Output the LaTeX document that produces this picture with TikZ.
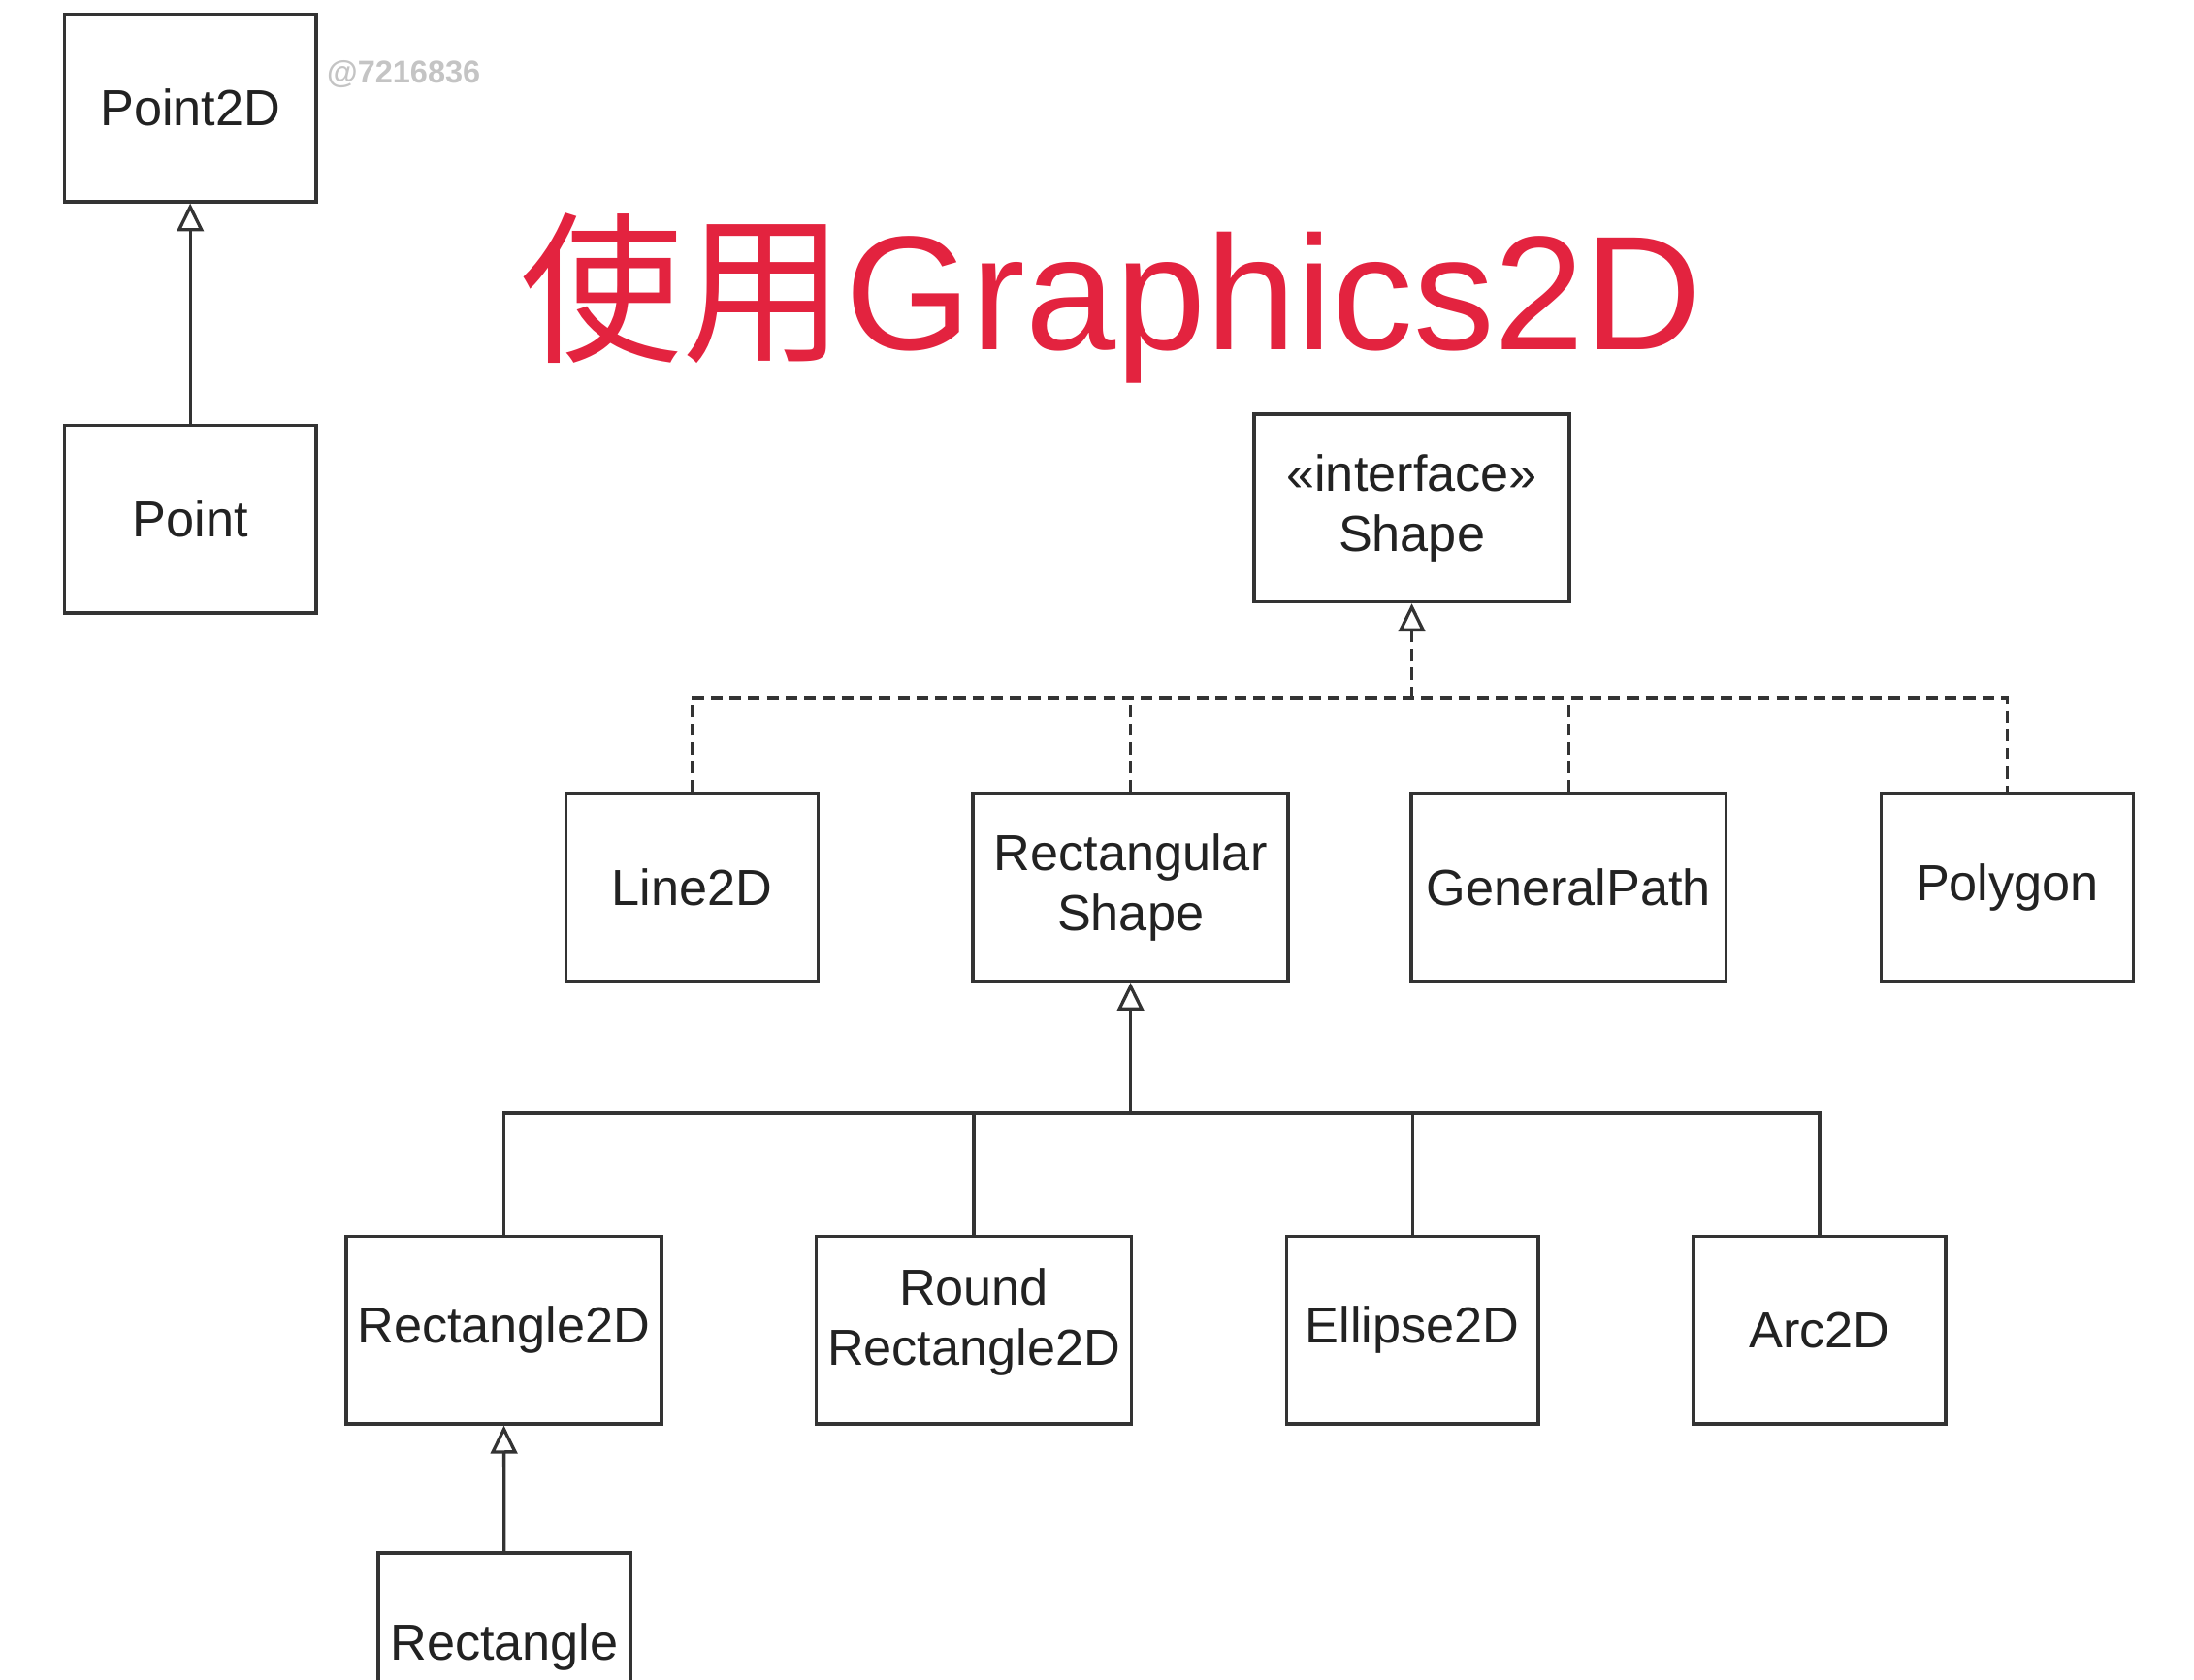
\documentclass[tikz,border=0pt]{standalone}
\usepackage{fontspec}
\setmainfont{Liberation Sans}
\newfontfamily\cjk{Noto Sans CJK SC}
\usetikzlibrary{arrows.meta}
\definecolor{umlline}{HTML}{333333}
\definecolor{umltext}{HTML}{222222}
\definecolor{titlered}{HTML}{E3233F}
\definecolor{markgray}{HTML}{C4C4C4}
\tikzset{
classbox/.style={ % one class of the hierarchy
draw=umlline,
line width=0.7pt,
text=umltext,
minimum width=1.8cm,
minimum height=1.34cm,
inner sep=0pt,
align=center,
font=\fontsize{10.3}{12.2}\selectfont},
wideclass/.style={classbox, minimum width=2.25cm},
bus/.style={draw=umlline, line width=0.65pt},
dashbus/.style={bus, dash pattern=on 2.4pt off 1.4pt},
extends/.style={ % open triangle at the parent
bus,
-{Triangle[open, width=0.19cm, length=0.2cm]}},
implements/.style={extends, dash pattern=on 2.4pt off 1.4pt}}

\begin{document}
\begin{tikzpicture}[x=0.01cm, y=-0.01cm]
\useasboundingbox (0,0) rectangle (1568,1200.6);
% points on the left
\node[classbox] (point2d) at (136,77) {Point2D};
\node[classbox] (point) at (136,371) {Point};
\draw[extends] (point) -- (point2d);
\node[anchor=base west, inner sep=0pt, text=markgray, font=\fontsize{6.4}{7}\selectfont\bfseries] (mark) at (233,59) {@7216836};
% title
\node[anchor=base west, inner sep=0pt, text=titlered, font=\fontsize{33}{36}\selectfont] (title) at (371,250) {{\cjk 使用}Graphics2D};
% interface and its classes
\node[wideclass] (shape) at (1009,363) {«interface»\\Shape};
\node[classbox] (line2d) at (494.5,634) {Line2D};
\node[wideclass] (rectshape) at (808,634) {Rectangular\\Shape};
\node[wideclass] (genpath) at (1121,634) {GeneralPath};
\node[classbox] (polygon) at (1434.5,634) {Polygon};
\coordinate (ibus) at (1009,499);
\draw[implements] (ibus) -- (shape);
\draw[dashbus] (line2d.north) |- (ibus) -| (polygon.north);
\foreach \c in {rectshape, genpath}
  \draw[dashbus] (\c.north) -- (\c.north |- ibus);
% subclasses of RectangularShape
\node[wideclass] (rect2d) at (360,950.5) {Rectangle2D};
\node[wideclass, text depth=5.5pt] (roundrect) at (696,950.5) {Round\\Rectangle2D};
\node[classbox] (ellipse) at (1009.5,950.5) {Ellipse2D};
\node[classbox] (arc) at (1300.5,950.5) {Arc2D};
\coordinate (cbus) at (808,795);
\draw[extends] (cbus) -- (rectshape);
\draw[bus] (rect2d.north) |- (cbus) -| (arc.north);
\foreach \c in {roundrect, ellipse}
  \draw[bus] (\c.north) -- (\c.north |- cbus);
% Rectangle
\node[classbox] (rect) at (360.5,1177) {Rectangle};
\draw[extends] (rect) -- (rect2d);
\end{tikzpicture}
\end{document}
